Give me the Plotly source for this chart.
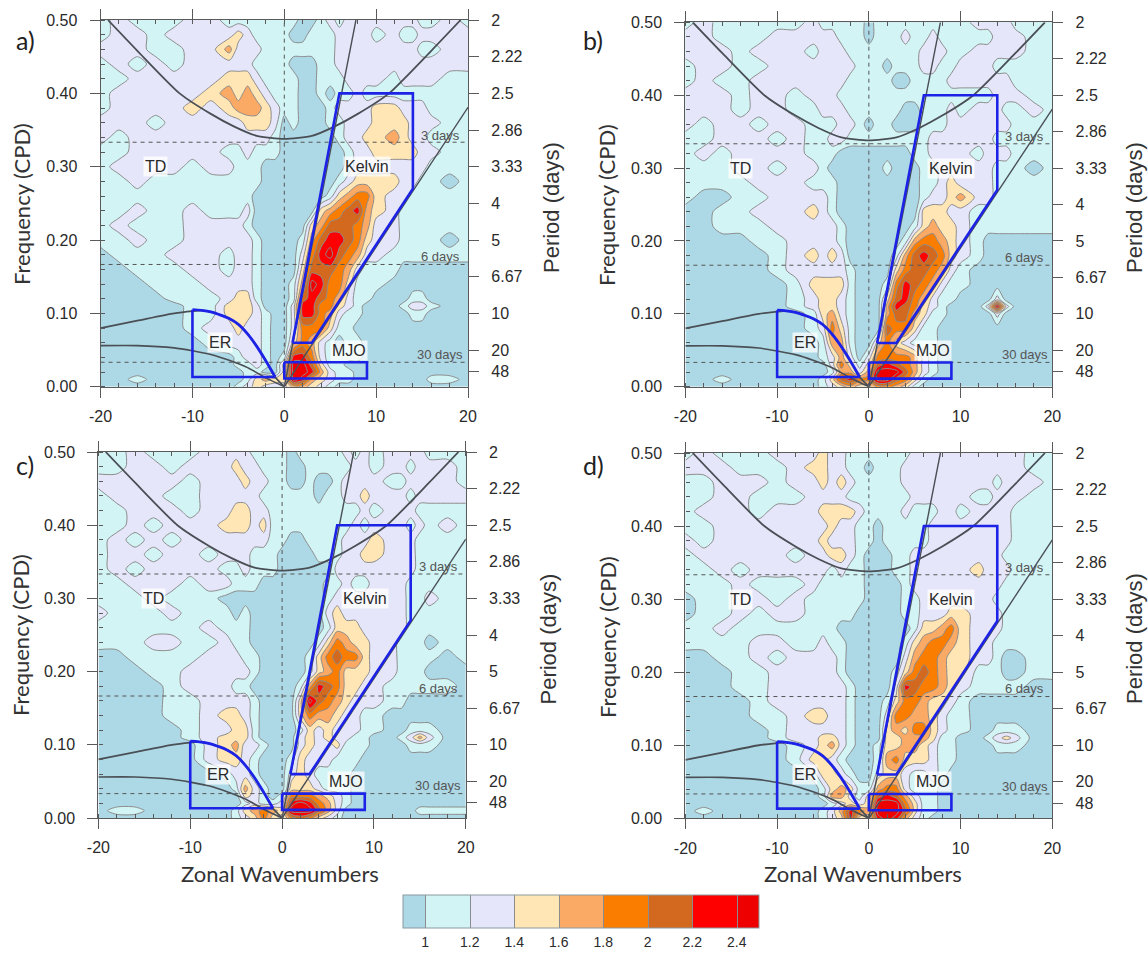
import numpy as np
import plotly.graph_objects as go

W, H = 1148, 953
WAVENUMBER = [-20,-18,-16,-14,-12,-10,-8,-6,-5,-4,-3,-2,-1,0,1,2,3,4,5,6,7,8,9,10,12,13,14,15,16,18,20]
FREQUENCY = [.50,.48,.46,.44,.42,.40,.38,.36,.34,.32,.30,.28,.26,.24,.22,.20,.18,.16,.14,.12,.11,.10,.08,.06,.04,.03,.02,.01,0]

# values are power x 10
PANEL_A = [
[11,13,11,11,11,13,13,11, 11,11,11,11,11,11, 11,9,9,11,13,11,13,13,13,13, 13,13,13,11,11,13,11],
[11,13,13,11,13,13,13,13, 15,13,11,11,11,11, 9,9,11,11,11,13,13,13,13,11, 13,11,11,13,13,13,13],
[13,13,13,11,11,13,13,17, 13,13,13,11,11,11, 11,11,11,11,11,13,13,13,13,13, 13,13,13,11,11,13,13],
[11,13,11,13,11,13,13,13, 13,13,11,11,11,11, 9,9,9,11,11,13,13,13,13,13, 13,13,13,13,13,13,13],
[11,11,13,13,13,13,13,15, 15,15,13,11,11,11, 11,9,9,11,11,11,13,13,13,13, 11,13,13,13,13,11,11],
[11,13,13,13,13,13,15,17, 15,17,15,13,11,11, 11,9,9,11,9,11,11,13,11,11, 11,11,11,11,11,11,11],
[11,13,13,13,13,15,13,15, 17,17,17,15,13,11, 11,9,9,9,11,13,13,13,13,15, 15,13,13,13,11,11,11],
[13,13,13,11,13,13,13,13, 13,15,15,15,13,9, 11,9,9,9,11,11,13,13,13,15, 15,15,13,13,13,11,11],
[13,11,13,13,13,13,13,13, 13,13,13,13,11,9, 9,9,9,9,9,11,13,13,15,15, 17,15,13,13,11,11,11],
[11,11,13,13,13,13,13,11, 11,13,11,11,11,9, 9,9,9,9,9,9,11,13,13,15, 15,15,15,13,13,11,11],
[11,13,13,13,13,11,13,13, 11,11,11,9,9,9, 9,9,9,9,9,9,11,13,13,13, 13,13,13,13,11,11,11],
[11,11,13,11,11,11,11,11, 11,11,11,9,9,9, 9,9,9,9,9,11,13,15,15,15, 15,13,13,11,11,9,11],
[11,11,11,11,11,11,11,11, 11,11,9,9,9,9, 9,9,9,9,11,15,17,19,19,15, 13,13,11,11,11,11,11],
[11,11,13,11,11,13,11,11, 11,13,9,9,9,9, 9,9,9,15,17,19,21,23,17,15, 13,11,11,11,11,11,11],
[11,13,11,11,11,13,13,13, 13,11,9,9,9,9, 9,9,15,17,21,21,21,19,17,13, 13,11,11,11,11,11,11],
[11,11,13,11,11,13,13,13, 13,13,11,9,9,9, 9,11,17,21,23,23,21,19,15,13, 13,11,11,11,11,9,11],
[9,11,11,11,13,13,13,11, 13,13,11,9,9,9, 9,13,19,23,25,21,19,17,13,13, 11,11,11,11,11,11,11],
[9,9,11,11,11,13,13,11, 13,13,11,9,9,9, 9,15,21,21,21,19,17,13,11,11, 11,9,9,9,9,9,9],
[9,9,9,11,11,11,13,13, 13,13,11,9,9,9, 11,17,25,23,19,19,15,11,11,11, 9,9,9,9,9,9,9],
[9,9,9,9,11,11,11,13, 15,15,11,9,9,9, 11,21,23,21,19,17,13,11,11,9, 9,9,11,11,9,9,9],
[9,9,9,9,9,11,11,15, 15,15,13,9,9,9, 13,23,23,19,19,15,13,11,9,9, 9,11,13,13,11,9,9],
[9,9,9,9,9,11,11,15, 15,15,13,11,9,9, 13,23,23,19,17,13,11,11,9,9, 9,9,11,11,9,9,9],
[9,9,9,9,9,11,13,13, 15,13,13,11,9,9, 13,19,19,19,15,11,11,9,9,9, 9,9,9,9,9,9,9],
[9,9,9,9,9,9,11,13, 13,13,13,11,9,9, 15,19,17,13,11,9,11,11,9,9, 9,9,9,9,9,9,9],
[9,9,9,9,9,9,9,9, 11,13,13,11,9,11, 23,23,19,13,11,11,11,11,9,9, 9,9,9,9,9,9,9],
[9,9,9,9,9,9,9,9, 11,11,13,11,9,15, 25,25,21,15,11,11,9,9,9,9, 9,9,9,9,9,9,9],
[9,9,9,9,9,9,9,9, 9,11,11,9,9,15, 25,25,23,17,13,11,11,9,9,9, 9,9,9,9,9,9,9],
[9,9,11,9,9,9,9,9, 9,11,15,17,15,15, 25,23,17,15,13,11,11,9,9,9, 9,9,9,9,11,11,9],
[9,9,9,9,9,9,9,9, 11,13,15,13,13,13, 17,17,15,13,11,9,9,9,9,9, 9,9,9,9,9,9,9],
]
PANEL_B = [
[11,13,11,11,11,11,11,13, 11,11,11,11,11,9, 11,11,11,11,11,11,11,11,11,11, 13,13,13,13,11,11,11],
[13,13,11,11,11,13,13,13, 13,13,11,11,11,9, 11,11,11,13,11,11,13,11,11,11, 11,11,13,13,13,11,11],
[13,13,13,11,13,13,13,11, 13,13,13,11,11,11, 11,11,11,11,11,13,13,13,11,11, 13,13,13,13,13,11,11],
[11,13,13,11,11,13,13,13, 13,13,13,13,11,11, 11,9,11,11,11,13,13,11,11,13, 13,13,11,11,11,11,11],
[11,13,11,11,13,13,13,13, 13,13,13,11,11,11, 11,11,9,9,11,11,11,11,13,13, 13,13,13,13,11,11,11],
[13,13,13,11,13,13,11,13, 13,13,11,11,11,11, 11,11,11,11,11,11,11,11,11,11, 11,11,13,13,13,11,11],
[13,13,13,11,13,13,11,11, 13,13,13,11,11,11, 11,11,11,9,9,11,11,11,13,11, 13,13,13,11,11,13,11],
[13,11,13,13,11,13,13,11, 11,11,13,13,11,9, 11,11,9,9,9,11,11,11,13,13, 13,13,13,13,11,11,11],
[11,11,13,13,13,11,13,11, 11,13,13,11,11,11, 11,11,11,11,11,11,13,13,13,13, 13,13,11,11,11,11,11],
[11,13,11,13,13,13,13,11, 11,11,9,9,9,9, 9,9,9,9,11,11,13,13,13,13, 11,13,13,13,11,11,11],
[11,11,11,13,13,11,13,13, 11,9,9,9,9,9, 9,11,9,9,9,11,11,13,13,13, 13,13,11,11,11,9,11],
[11,11,11,11,13,13,13,11, 11,11,9,9,9,9, 9,9,9,9,9,11,11,13,15,13, 13,13,11,11,11,11,11],
[11,9,9,11,11,13,13,13, 13,11,9,9,9,9, 9,9,9,9,9,11,13,13,15,17, 13,13,11,11,11,11,11],
[9,9,11,11,13,13,13,15, 13,11,9,9,9,9, 9,9,9,9,9,15,15,15,13,13, 11,11,11,11,11,11,11],
[9,9,11,11,11,13,13,13, 13,13,11,9,9,9, 9,9,9,9,11,15,17,15,15,13, 11,11,11,11,11,11,11],
[9,9,9,9,11,11,13,13, 13,13,11,9,9,9, 9,9,9,11,17,19,19,17,15,13, 11,9,9,9,9,9,9],
[9,9,9,9,9,11,13,15, 13,15,13,9,9,9, 9,9,11,17,21,23,21,19,15,13, 11,9,9,9,9,9,9],
[9,9,9,9,9,11,13,13, 13,13,13,11,9,9, 9,9,15,19,21,21,19,17,13,11, 9,9,9,9,9,9,9],
[9,9,9,9,9,9,11,15, 15,15,15,11,9,9, 9,11,19,23,21,19,17,13,11,11, 9,9,9,9,9,9,9],
[9,9,9,9,9,9,11,13, 15,15,13,11,9,9, 9,15,21,23,19,17,13,11,11,9, 9,9,13,9,9,9,9],
[9,9,9,9,9,9,11,13, 15,15,13,11,9,9, 9,17,23,21,19,15,13,11,9,9, 9,13,25,13,9,9,9],
[9,9,9,9,9,9,9,11, 15,17,13,11,9,9, 9,17,21,21,17,15,11,11,9,9, 9,9,13,9,9,9,9],
[9,9,9,9,9,9,9,11, 13,19,15,11,9,9, 9,21,19,19,15,11,11,9,9,9, 9,9,9,9,9,9,9],
[9,9,9,9,9,9,9,9, 11,17,17,11,9,9, 15,19,15,13,11,11,11,9,9,9, 9,9,9,9,9,9,9],
[9,9,9,9,9,9,9,9, 11,13,17,13,9,13, 19,19,19,19,17,13,11,9,9,9, 9,9,9,9,9,9,9],
[9,9,9,9,9,9,9,9, 9,13,19,15,11,15, 21,23,21,19,17,13,11,9,9,9, 9,9,9,9,9,9,9],
[9,9,9,9,9,9,9,9, 9,11,17,17,13,17, 25,25,25,21,17,13,11,9,9,9, 9,9,9,9,9,9,9],
[9,9,11,9,9,9,9,9, 11,15,21,23,19,19, 25,25,21,19,15,11,9,9,9,9, 9,9,9,9,9,9,9],
[9,9,9,9,9,9,9,9, 11,13,15,17,15,15, 19,19,17,15,11,9,9,9,9,9, 9,9,9,9,9,9,9],
]
PANEL_C = [
[11,11,13,11,11,11,13,13, 13,13,11,11,11,11, 9,11,11,11,11,11,13,11,13,11, 13,13,13,13,11,11,11],
[11,11,13,13,11,13,13,13, 15,13,13,11,11,11, 9,9,11,11,11,11,11,13,13,11, 13,13,11,13,13,13,11],
[13,13,13,13,13,11,13,13, 13,15,13,13,11,11, 9,9,11,9,9,11,13,13,13,13, 11,11,13,13,13,13,11],
[11,13,13,13,11,11,13,13, 13,13,13,11,11,11, 11,11,11,9,11,11,13,13,15,13, 13,13,11,13,13,13,13],
[11,11,13,13,13,11,13,13, 15,15,13,13,11,11, 11,11,11,11,11,11,11,11,13,11, 13,13,13,11,11,11,11],
[11,11,13,11,13,13,13,15, 15,15,13,15,11,11, 11,11,11,11,11,11,11,13,11,13, 13,13,11,13,11,13,11],
[11,13,11,13,11,13,13,13, 13,13,13,13,11,11, 9,9,11,11,11,11,13,13,13,15, 13,13,13,11,11,11,11],
[11,13,13,11,13,13,11,13, 13,13,11,11,11,9, 9,9,9,11,11,11,13,13,15,15, 13,13,13,11,11,11,11],
[11,13,11,13,13,13,13,11, 11,13,11,11,11,9, 9,9,9,9,9,13,13,13,13,13, 13,13,13,11,11,11,11],
[11,11,13,13,13,11,13,13, 11,11,11,9,9,9, 9,9,9,9,11,11,13,11,11,13, 13,13,11,11,11,11,11],
[11,11,11,13,11,11,11,9, 9,9,9,9,9,9, 9,9,9,9,11,13,13,13,13,13, 13,13,11,11,13,11,11],
[13,11,11,11,13,11,11,11, 9,11,9,9,9,9, 9,9,9,9,13,15,13,13,13,13, 13,13,11,11,11,11,11],
[11,11,11,11,11,11,13,11, 11,11,9,9,9,9, 9,9,9,9,11,15,15,15,13,13, 13,13,11,11,11,11,11],
[11,11,11,13,13,11,11,13, 11,11,9,9,9,9, 9,9,9,11,15,19,17,15,15,13, 13,11,11,11,9,11,11],
[9,9,11,11,11,11,13,13, 13,11,11,9,9,9, 9,9,11,15,19,21,19,19,15,13, 13,11,11,11,11,9,11],
[9,9,9,11,11,13,13,13, 13,13,11,9,9,9, 9,9,11,15,17,19,15,15,15,13, 13,11,11,11,9,9,9],
[9,9,9,9,11,13,13,13, 11,11,9,9,9,9, 9,11,17,23,21,19,15,15,13,13, 11,11,11,11,11,11,9],
[9,9,9,9,11,11,13,13, 13,13,11,9,9,9, 9,15,25,21,19,17,15,13,13,13, 11,11,9,9,9,9,9],
[9,9,9,9,11,11,13,15, 15,13,11,9,9,9, 9,15,19,17,17,15,13,13,11,11, 9,9,9,9,9,9,9],
[9,9,9,9,9,11,13,13, 15,15,11,9,9,9, 9,11,15,13,15,13,13,13,11,11, 9,9,11,11,11,9,9],
[9,9,9,9,9,11,13,15, 15,15,11,9,9,9, 9,13,15,13,15,13,13,11,11,9, 9,11,13,17,13,9,9],
[9,9,9,9,9,9,13,15, 17,13,13,11,9,9, 9,13,15,13,13,15,11,11,11,9, 9,9,11,11,11,9,9],
[9,9,9,9,9,9,13,15, 15,13,11,9,9,9, 11,15,13,13,13,11,11,11,9,9, 9,9,9,9,9,9,9],
[9,9,9,9,9,9,9,11, 13,13,11,9,9,9, 13,15,13,11,11,11,11,9,9,9, 9,9,9,9,9,9,9],
[9,9,9,9,9,9,9,9, 11,17,13,11,9,9, 15,15,15,13,11,11,11,9,9,9, 9,9,9,9,9,9,9],
[9,9,9,9,9,9,9,9, 9,15,13,11,9,11, 19,19,19,17,15,13,11,9,9,9, 9,9,9,9,9,9,9],
[9,9,9,9,9,9,9,9, 9,11,13,11,11,13, 23,25,23,19,17,13,11,9,9,9, 9,9,9,9,9,9,9],
[9,11,11,9,9,9,9,9, 11,15,17,19,17,15, 25,25,25,21,17,13,9,9,9,9, 9,9,9,11,11,11,11],
[9,9,9,9,9,9,9,9, 11,13,15,19,15,13, 19,21,19,15,13,11,9,9,9,9, 9,9,9,9,9,9,9],
]
PANEL_D = [
[11,13,11,11,11,13,13,13, 15,13,13,11,11,11, 11,11,11,11,13,13,13,13,13,13, 13,13,13,13,13,11,11],
[13,13,13,11,11,11,13,15, 15,13,13,11,11,9, 11,11,11,13,13,13,13,13,13,13, 13,13,13,13,13,11,11],
[11,11,13,13,13,11,13,13, 15,13,15,13,11,11, 11,11,11,13,13,13,13,13,13,13, 13,13,11,13,13,13,11],
[11,11,13,13,11,11,11,13, 13,13,13,11,11,11, 11,11,11,11,13,13,13,13,13,13, 11,11,13,13,13,11,11],
[11,13,13,13,11,13,13,13, 15,15,15,15,13,11, 11,11,11,13,11,11,11,13,13,11, 13,13,13,13,11,11,11],
[11,11,13,13,13,13,13,13, 13,15,13,13,11,11, 9,11,11,11,11,11,13,13,13,13, 13,13,13,13,11,11,11],
[13,11,13,13,13,13,13,13, 15,13,13,13,11,11, 9,11,11,11,11,11,13,13,13,13, 13,13,13,13,11,11,11],
[11,13,13,13,13,13,11,13, 13,15,15,13,11,9, 9,9,11,11,13,13,13,13,13,13, 13,13,13,11,11,11,11],
[11,11,13,11,13,13,13,13, 13,11,13,11,11,9, 9,9,11,11,13,13,13,13,13,13, 15,13,13,13,11,11,11],
[11,11,11,13,11,11,11,13, 11,11,11,11,11,9, 9,9,9,11,13,13,13,13,13,13, 13,13,13,11,11,11,11],
[9,11,11,13,13,11,13,11, 11,11,11,11,11,9, 9,9,9,11,11,13,13,13,13,13, 13,13,11,11,11,11,11],
[9,11,11,13,11,13,13,11, 11,11,11,11,9,9, 9,9,9,11,11,13,13,13,15,15, 13,13,13,11,11,11,11],
[11,11,13,11,11,11,11,11, 11,11,9,9,9,9, 9,9,9,9,11,15,15,17,19,15, 13,13,13,11,11,11,11],
[11,11,11,11,13,13,11,11, 13,11,11,9,9,9, 9,9,9,11,15,17,19,19,17,15, 13,13,11,11,11,11,11],
[9,9,11,11,13,11,13,13, 13,13,11,9,9,9, 9,9,9,13,17,19,19,17,15,15, 13,13,11,9,9,11,11],
[9,9,9,11,11,13,13,13, 13,13,11,9,9,9, 9,9,11,15,19,21,19,17,15,15, 11,11,11,9,9,11,11],
[9,9,9,11,11,13,13,13, 13,13,13,11,9,9, 9,9,13,23,21,19,19,17,15,13, 11,11,11,11,11,9,9],
[9,9,9,9,11,13,13,13, 13,13,13,11,9,9, 9,11,15,19,19,17,15,15,13,11, 9,9,9,9,9,9,9],
[9,9,9,9,11,11,13,15, 15,13,13,11,9,9, 9,13,19,19,17,17,15,13,11,11, 9,9,9,9,9,9,9],
[9,9,9,9,9,11,13,13, 13,13,13,11,9,9, 9,15,17,15,19,19,15,13,11,11, 9,9,11,11,11,9,9],
[9,9,9,9,9,11,13,13, 15,15,13,11,9,9, 9,15,15,17,17,17,15,11,11,9, 9,11,13,15,13,9,9],
[9,9,9,9,9,9,11,13, 15,17,13,11,9,9, 11,15,15,17,17,15,13,11,11,9, 9,9,11,11,11,9,9],
[9,9,9,9,9,9,11,15, 15,13,11,9,9,9, 11,17,19,15,15,15,13,11,11,9, 9,9,9,9,9,9,9],
[9,9,9,9,9,9,9,11, 15,15,13,11,9,9, 13,15,15,13,11,11,13,11,9,9, 9,9,9,9,9,9,9],
[9,9,9,9,9,9,9,9, 11,15,17,15,11,11, 17,19,19,13,11,11,11,9,9,9, 9,9,9,9,9,9,9],
[9,9,9,9,9,9,9,9, 11,17,17,13,11,15, 21,23,21,17,13,11,11,9,9,9, 9,9,9,9,9,9,9],
[9,9,9,9,9,9,9,9, 9,11,13,15,13,15, 25,25,25,19,15,11,11,9,9,9, 9,9,9,9,9,9,9],
[9,11,9,9,9,9,9,9, 11,13,17,23,19,17, 25,25,25,21,15,11,11,9,9,9, 9,9,9,9,9,9,9],
[9,9,9,9,9,9,9,9, 11,13,15,23,15,15, 23,25,23,17,13,11,9,9,9,9, 9,9,9,9,9,9,9],
]
PANELS = [PANEL_A, PANEL_B, PANEL_C, PANEL_D]
LETTERS = ["a)", "b)", "c)", "d)"]

LEVELS = [1, 1.2, 1.4, 1.6, 1.8, 2, 2.2, 2.4]
BAND_COLORS = ["#add8e6", "#d2f4f4", "#e6e6fa", "#ffe6b4", "#fbaa66", "#fa7d00", "#d2691e", "#ff0000", "#ee0000"]

PERIOD_FREQ = [.5, .45, .4, .35, .3, .25, .2, .15, .1, .05, .0208]
PERIOD_TEXT = ["2", "2.22", "2.5", "2.86", "3.33", "4", "5", "6.67", "10", "20", "48"]
FREQ_TICKS = [0, .1, .2, .3, .4, .5]
FREQ_TEXT = ["0.00", "0.10", "0.20", "0.30", "0.40", "0.50"]

KELVIN_K = [.9, 6, 14, 14, 3, .9]
KELVIN_F = [.06, .4, .4, .27, .06, .06]
MJO_K = [0, 9, 9, 0, 0]
MJO_F = [.0333, .0333, .0111, .0111, .0333]
ER_CURVE_K = [-10, -9, -8, -7, -6, -5, -4, -3, -2, -1]
ER_CURVE_F = [.105, .104, .102, .098, .093, .085, .072, .055, .035, .0133]
ER_BOX_K = [-1, -10, -10]
ER_BOX_F = [.0133, .0133, .105]

IG_K = [-19.2, -16, -11.4, -8, -5.5, -3, 0, 3, 5.5, 8, 11.4, 16, 19.2]
IG_F = [.5, .458, .4, .372, .355, .342, .338, .342, .355, .372, .4, .458, .5]
KW1_K = [0, 7.8]
KW1_F = [0, .5]
KW2_K = [0, 20]
KW2_F = [0, .381]
ER1_K = [-20, -16, -12, -10, -9, -8, -7, -6, -5, -4, -3, -2, -1, 0]
ER1_F = [.08, .09, .1, .103, .104, .102, .098, .093, .085, .072, .055, .035, .0133, 0]
ER2_K = [-20, -16, -12, -10, -8, -6, -4, -2, 0]
ER2_F = [.056, .056, .053, .049, .044, .036, .026, .012, 0]

DASH_F = [1/3, 1/6, 1/30]
DAY_LABELS = ["3 days", "6 days", "30 days"]
DAY_F = [.343, .177, .044]
REGIONS = [("TD", -14, .30), ("Kelvin", 9, .30), ("ER", -7, .06), ("MJO", 7, .05)]

# panel rectangles in pixels: left, right, top, bottom
RECTS = [(100.6, 468, 20, 386.7), (685.4, 1052.3, 22.3, 386.7), (98.4, 465.8, 452, 818), (685.4, 1052.3, 453, 818.3)]
FREQ_TITLE = [(22, 204), (607, 205), (20, 635), (607, 637)]
PERIOD_TITLE = [(551, 208), (1134, 208), (547.5, 639), (1134, 639)]
LETTER_POS = [(25, 40), (593, 40), (25, 465), (593, 465)]
ZONAL_POS = [(280, 873), (863, 873)]

TXT = "#2a2a2a"
SANS = "Liberation Sans, Arial, sans-serif"
SOFT = "Lato, sans-serif"
AXC = "#5a5a5a"
px = lambda x: x / W
py = lambda y: 1 - y / H

fig = go.Figure()
layout = dict(width=W, height=H, margin=dict(l=0, r=0, t=0, b=0, autoexpand=False), paper_bgcolor="white",
              plot_bgcolor="white", showlegend=False, font=dict(family=SANS, color=TXT))
annots = []
freq = np.array(FREQUENCY)[::-1]
scale = [[i / 8, c] for i, c in enumerate(BAND_COLORS)]
paper = dict(xref="paper", yref="paper", xanchor="center", yanchor="middle", showarrow=False)

for i, rows in enumerate(PANELS):
    L, R, T, B = RECTS[i]
    xa, ya, yb = f"x{i+1}", f"y{2*i+1}", f"y{2*i+2}"
    z = np.array(rows, dtype=float)[::-1] / 10
    cb = dict(orientation="h", lenmode="pixels", len=356, thicknessmode="pixels", thickness=33,
              x=px(581), xanchor="center", y=py(895), yanchor="top", xpad=0, ypad=0,
              tickmode="array", tickvals=LEVELS, ticktext=[str(v) for v in LEVELS],
              ticks="outside", ticklen=2, tickcolor="rgba(0,0,0,0)",
              outlinecolor="#8a9aa0", outlinewidth=1, tickfont=dict(size=14, color=TXT))
    fig.add_trace(go.Contour(x=WAVENUMBER, y=freq, z=z, xaxis=xa, yaxis=ya, colorscale=scale,
                             contours=dict(start=1, end=2.4, size=.2, coloring="fill", showlines=True),
                             line=dict(color="#8c8c8c", width=1, smoothing=.8),
                             showscale=i == 0, colorbar=cb if i == 0 else None, hoverinfo="skip"))
    for k, f, c, w in [(IG_K, IG_F, "#4a4f55", 1.8), (KW1_K, KW1_F, "#4a4f55", 1.4), (KW2_K, KW2_F, "#4a4f55", 1.4),
                       (ER1_K, ER1_F, "#4a4f55", 1.8), (ER2_K, ER2_F, "#4a4f55", 1.6)]:
        fig.add_trace(go.Scatter(x=k, y=f, mode="lines", xaxis=xa, yaxis=ya,
                                 line=dict(color=c, width=w, shape="spline", smoothing=.6)))
    for df in DASH_F:
        fig.add_trace(go.Scatter(x=[-20, 20], y=[df, df], mode="lines", xaxis=xa, yaxis=ya,
                                 line=dict(color="#555", width=1, dash="4px,4px")))
    fig.add_trace(go.Scatter(x=[0, 0], y=[0, .5], mode="lines", xaxis=xa, yaxis=ya,
                             line=dict(color="#555", width=1, dash="4px,4px")))
    for k, f in [(KELVIN_K, KELVIN_F), (MJO_K, MJO_F), (ER_BOX_K, ER_BOX_F)]:
        fig.add_trace(go.Scatter(x=k, y=f, mode="lines", xaxis=xa, yaxis=ya,
                                 line=dict(color="#1c22e6", width=2.6)))
    fig.add_trace(go.Scatter(x=ER_CURVE_K, y=ER_CURVE_F, mode="lines", xaxis=xa, yaxis=ya,
                             line=dict(color="#1c22e6", width=2.8, shape="spline", smoothing=1)))
    # carries the right-hand period axis
    fig.add_trace(go.Scatter(x=[None], y=[None], xaxis=xa, yaxis=yb, mode="lines"))

    tick = dict(ticks="outside", ticklen=10, tickwidth=1.2, tickcolor=AXC, linecolor=AXC, linewidth=1.2,
                showgrid=False, zeroline=False, ticklabelstandoff=9, tickfont=dict(size=16, color=TXT))
    xtick = {**tick, "ticklabelstandoff": 5}
    xname = "xaxis" if i == 0 else f"xaxis{i+1}"
    yname = "yaxis" if i == 0 else f"yaxis{2*i+1}"
    y2name = f"yaxis{2*i+2}"
    layout[xname] = dict(domain=[px(L), px(R)], anchor=ya, range=[-20, 20], tickvals=[-20, -10, 0, 10, 20],
                         ticktext=["-20", "-10", "0", "10", "20"], showline=True, mirror="ticks",
                         minor=dict(ticks="inside", dtick=2, tick0=0, ticklen=4, tickcolor=AXC), **xtick)
    layout[yname] = dict(domain=[py(B), py(T)], anchor=xa, range=[0, .5], tickvals=FREQ_TICKS, ticktext=FREQ_TEXT,
                         showline=True, minor=dict(ticks="inside", dtick=.02, tick0=0, ticklen=4, tickcolor=AXC), **tick)
    layout[y2name] = dict(domain=[py(B), py(T)], anchor=xa, overlaying=ya, side="right", range=[0, .5],
                          tickvals=PERIOD_FREQ, ticktext=PERIOD_TEXT, showline=True, **tick)

    for (lab, df) in zip(DAY_LABELS, DAY_F):
        annots.append(dict(x=17, y=df, xref=xa, yref=ya, text=lab, showarrow=False,
                           font=dict(size=13, color="#555")))
    for (lab, k, f) in REGIONS:
        annots.append(dict(x=k, y=f, xref=xa, yref=ya, text=lab, showarrow=False, borderpad=1,
                           bgcolor="rgba(255,255,255,.75)", font=dict(size=16, color=TXT)))
    x, y = FREQ_TITLE[i]
    annots.append(dict(x=px(x), y=py(y), text="Frequency (CPD)", textangle=-90,
                       font=dict(family=SOFT, size=22, color="#333"), **paper))
    x, y = PERIOD_TITLE[i]
    annots.append(dict(x=px(x), y=py(y), text="Period (days)", textangle=-90,
                       font=dict(size=22, color="#333"), **paper))
    x, y = LETTER_POS[i]
    annots.append(dict(x=px(x), y=py(y), text=LETTERS[i],
                       font=dict(family=SOFT, size=25, color="#222"), **paper))

for (x, y) in ZONAL_POS:
    annots.append(dict(x=px(x), y=py(y), text="Zonal Wavenumbers",
                       font=dict(family=SOFT, size=22, color="#333"), **paper))

layout["annotations"] = annots
fig.update_layout(**layout)
fig.write_html("out.html", config=dict(displayModeBar=False), post_script="document.body.style.margin='0';")
